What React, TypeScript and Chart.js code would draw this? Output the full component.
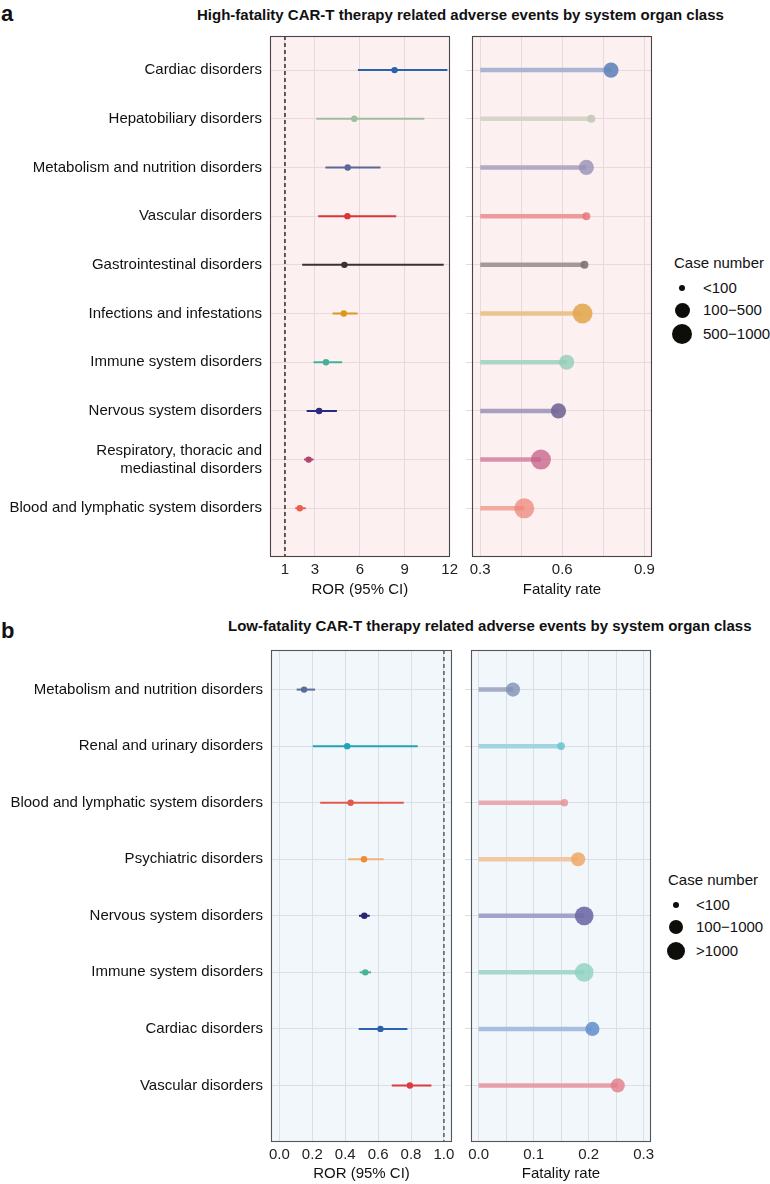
import React, { useEffect, useRef } from 'react';
import { Chart, registerables } from 'chart.js';

Chart.register(...registerables);

const FONT = "'Liberation Sans', Arial, Helvetica, sans-serif";

// ---------------- Panel a : high-fatality ----------------
const topCategories = [
  'Cardiac disorders',
  'Hepatobiliary disorders',
  'Metabolism and nutrition disorders',
  'Vascular disorders',
  'Gastrointestinal disorders',
  'Infections and infestations',
  'Immune system disorders',
  'Nervous system disorders',
  'Respiratory, thoracic and\nmediastinal disorders',
  'Blood and lymphatic system disorders',
];
const topRor = [8.32, 5.63, 5.19, 5.17, 4.97, 4.93, 3.74, 3.28, 2.58, 1.99];
const topRorLow = [5.87, 3.09, 3.7, 3.22, 2.15, 4.18, 2.91, 2.45, 2.28, 1.69];
const topRorHigh = [11.85, 10.31, 7.38, 8.43, 11.6, 5.85, 4.82, 4.47, 2.91, 2.39];
const topFatality = [0.778, 0.706, 0.688, 0.688, 0.681, 0.674, 0.616, 0.586, 0.522, 0.461];
const topCaseGroup = ['100−500', '<100', '100−500', '<100', '<100', '500−1000', '100−500', '100−500', '500−1000', '500−1000'];
const topCaseLevels = ['<100', '100−500', '500−1000'];
const topRorTicks = [1, 3, 6, 9, 12];
const topRorTickLabels = ['1', '3', '6', '9', '12'];
const topFatalityTicks = [0.3, 0.45, 0.6, 0.75, 0.9];
const topFatalityTickLabels = ['0.3', '', '0.6', '', '0.9'];
const topStemStart = 0.3;
const topRefLine = 1;

// ---------------- Panel b : low-fatality ----------------
const botCategories = [
  'Metabolism and nutrition disorders',
  'Renal and urinary disorders',
  'Blood and lymphatic system disorders',
  'Psychiatric disorders',
  'Nervous system disorders',
  'Immune system disorders',
  'Cardiac disorders',
  'Vascular disorders',
];
const botRor = [0.15, 0.412, 0.433, 0.514, 0.516, 0.522, 0.614, 0.793];
const botRorLow = [0.105, 0.203, 0.248, 0.418, 0.484, 0.488, 0.482, 0.683];
const botRorHigh = [0.217, 0.841, 0.756, 0.634, 0.549, 0.557, 0.778, 0.924];
const botFatality = [0.0625, 0.15, 0.156, 0.181, 0.192, 0.192, 0.207, 0.253];
const botCaseGroup = ['100−1000', '<100', '<100', '100−1000', '>1000', '>1000', '100−1000', '100−1000'];
const botCaseLevels = ['<100', '100−1000', '>1000'];
const botRorTicks = [0, 0.2, 0.4, 0.6, 0.8, 1.0];
const botRorTickLabels = ['0.0', '0.2', '0.4', '0.6', '0.8', '1.0'];
const botFatalityTicks = [0, 0.05, 0.1, 0.15, 0.2, 0.25, 0.3];
const botFatalityTickLabels = ['0.0', '', '0.1', '', '0.2', '', '0.3'];
const botStemStart = 0;
const botRefLine = 1;

// ---------------- styles ----------------
const topForestColors = ['#2b62ad', '#9fbf9f', '#5b6898', '#d93636', '#3b3131', '#d99a1c', '#45b09b', '#2b2a80', '#b04570', '#e8604c'];
const topPointColors = [
  'rgba(100,132,186,0.9)', 'rgba(196,201,182,0.9)', 'rgba(150,144,180,0.8)', 'rgba(230,120,126,0.85)',
  'rgba(128,115,115,0.9)', 'rgba(226,168,82,0.9)', 'rgba(145,206,184,0.8)', 'rgba(115,102,152,0.9)',
  'rgba(196,95,135,0.75)', 'rgba(236,135,122,0.75)',
];
const topStemColors = ['#a9b6d3', '#d6d5c8', '#b1abc4', '#ee9a9d', '#a59a9a', '#eac48e', '#abd6c7', '#a89fc0', '#d890ad', '#f0aaa0'];
const topRadius = [4, 7.6, 10];

const botForestColors = ['#5a6b9e', '#22a3b6', '#e05a4e', '#f08c34', '#2b2272', '#47b39b', '#2b62ad', '#dc3a3c'];
const botCiColors = ['#5a6b9e', '#22a3b6', '#e05a4e', '#f5b276', '#2b2272', '#47b39b', '#2b62ad', '#dc3a3c'];
const botPointColors = [
  'rgba(128,144,182,0.8)', 'rgba(110,196,212,0.9)', 'rgba(230,150,154,0.85)', 'rgba(238,172,110,0.9)',
  'rgba(110,106,166,0.9)', 'rgba(140,210,192,0.8)', 'rgba(104,148,206,0.9)', 'rgba(226,124,136,0.8)',
];
const botStemColors = ['#a4acc6', '#9fd4e0', '#e8acaf', '#f1c8a2', '#a4a2c8', '#a6d9cc', '#a7bee0', '#e8a0a8'];
const botRadius = [3.8, 7.1, 9.4];

const PINK = '#fdf0f0';
const PINK_GRID = '#e8dadc';
const BLUE = '#f2f7fc';
const BLUE_GRID = '#dadfe6';

type Spec = {
  kind: 'forest' | 'lollipop';
  categories: string[];
  values: number[];
  low?: number[];
  high?: number[];
  stemStart?: number;
  radii?: number[];
  pointColors: string[];
  lineColors: string[];
  xMin: number;
  xMax: number;
  xTicks: number[];
  xTickLabels: string[];
  xTitle: string;
  refLine?: number;
  refColor?: string;
  bg: string;
  gridColor: string;
  borderColor: string;
  left: number;
  top: number;
  width: number;
  height: number;
  padTop: number;
  padRight: number;
  yAxisWidth: number;
  xAxisHeight: number;
  showYLabels: boolean;
};

const panelPlugin = {
  id: 'panelBox',
  beforeDraw(chart: any, _args: any, opts: any) {
    const { ctx, chartArea: a } = chart;
    ctx.save();
    ctx.fillStyle = opts.bg;
    ctx.fillRect(a.left, a.top, a.right - a.left, a.bottom - a.top);
    ctx.restore();
  },
  afterDraw(chart: any, _args: any, opts: any) {
    const { ctx, chartArea: a } = chart;
    ctx.save();
    ctx.strokeStyle = opts.border;
    ctx.lineWidth = 1.1;
    ctx.strokeRect(Math.round(a.left) + 0.5, Math.round(a.top) + 0.5, Math.round(a.right - a.left) - 1, Math.round(a.bottom - a.top) - 1);
    ctx.restore();
  },
};

function buildConfig(p: Spec): any {
  const n = p.categories.length;
  const yMin = -0.7;
  const yMax = n;
  const datasets: any[] = [];
  if (p.kind === 'forest') {
    p.values.forEach((_, i) => {
      datasets.push({
        type: 'scatter',
        data: [{ x: p.low![i], y: i }, { x: p.high![i], y: i }],
        showLine: true,
        borderColor: p.lineColors[i],
        borderWidth: 2,
        borderCapStyle: 'butt',
        pointRadius: 0,
        order: 2,
      });
    });
    if (p.refLine !== undefined) {
      datasets.push({
        type: 'scatter',
        data: [{ x: p.refLine, y: yMin }, { x: p.refLine, y: yMax }],
        showLine: true,
        borderColor: p.refColor,
        borderWidth: 1.3,
        borderDash: [4, 3],
        pointRadius: 0,
        order: 1,
      });
    }
    datasets.push({
      type: 'scatter',
      data: p.values.map((v, i) => ({ x: v, y: i })),
      pointRadius: 3.2,
      pointBackgroundColor: p.pointColors,
      pointBorderWidth: 0,
      pointBorderColor: 'rgba(0,0,0,0)',
      order: 0,
    });
  } else {
    p.values.forEach((v, i) => {
      datasets.push({
        type: 'scatter',
        data: [{ x: p.stemStart, y: i }, { x: v, y: i }],
        showLine: true,
        borderColor: p.lineColors[i],
        borderWidth: 4.5,
        borderCapStyle: 'butt',
        pointRadius: 0,
        order: 2,
      });
    });
    datasets.push({
      type: 'scatter',
      data: p.values.map((v, i) => ({ x: v, y: i })),
      pointRadius: p.radii,
      pointBackgroundColor: p.pointColors,
      pointBorderWidth: 0,
      pointBorderColor: 'rgba(0,0,0,0)',
      order: 0,
    });
  }

  return {
    type: 'scatter',
    data: { datasets },
    plugins: [panelPlugin],
    options: {
      responsive: false,
      animation: false,
      events: [],
      layout: { padding: { top: p.padTop, right: p.padRight, bottom: 0, left: 0 } },
      plugins: {
        legend: { display: false },
        tooltip: { enabled: false },
        panelBox: { bg: p.bg, border: p.borderColor },
      },
      scales: {
        x: {
          type: 'linear',
          min: p.xMin,
          max: p.xMax,
          offset: false,
          beginAtZero: false,
          afterBuildTicks: (s: any) => {
            s.ticks = p.xTicks.map((v) => ({ value: v }));
          },
          afterFit: (s: any) => {
            s.height = p.xAxisHeight;
          },
          ticks: {
            autoSkip: false,
            maxRotation: 0,
            padding: 4,
            color: '#222',
            font: { family: FONT, size: 15 },
            callback: (_v: any, idx: number) => p.xTickLabels[idx] ?? '',
          },
          grid: { color: p.gridColor, lineWidth: 1, drawTicks: false, offset: false },
          border: { display: false },
          title: {
            display: true,
            text: p.xTitle,
            color: '#111',
            font: { family: FONT, size: 15 },
            padding: { top: 0, bottom: 1 },
          },
        },
        y: {
          type: 'linear',
          reverse: true,
          min: yMin,
          max: yMax,
          offset: false,
          beginAtZero: false,
          afterBuildTicks: (s: any) => {
            s.ticks = p.categories.map((_, i) => ({ value: i }));
          },
          afterFit: (s: any) => {
            s.width = p.yAxisWidth;
          },
          ticks: {
            display: p.showYLabels,
            autoSkip: false,
            padding: 8,
            color: '#111',
            font: { family: FONT, size: 15 },
            callback: (v: any) => {
              const lab = p.categories[v];
              return lab ? lab.split('\n') : '';
            },
          },
          grid: {
            color: p.gridColor,
            lineWidth: 1,
            drawTicks: !p.showYLabels,
            tickLength: 6,
            offset: false,
          },
          border: { display: false },
        },
      },
    },
  };
}

function ChartPanel({ spec }: { spec: Spec }) {
  const ref = useRef<HTMLCanvasElement | null>(null);
  useEffect(() => {
    if (!ref.current) return;
    const chart = new Chart(ref.current, buildConfig(spec));
    return () => chart.destroy();
  }, [spec]);
  return (
    <canvas
      ref={ref}
      width={spec.width}
      height={spec.height}
      style={{ position: 'absolute', left: spec.left, top: spec.top, width: spec.width, height: spec.height }}
    />
  );
}

const topForest: Spec = {
  kind: 'forest',
  categories: topCategories,
  values: topRor,
  low: topRorLow,
  high: topRorHigh,
  pointColors: topForestColors,
  lineColors: topForestColors,
  xMin: 0,
  xMax: 12,
  xTicks: topRorTicks,
  xTickLabels: topRorTickLabels,
  xTitle: 'ROR (95% CI)',
  refLine: topRefLine,
  refColor: '#111',
  bg: PINK,
  gridColor: PINK_GRID,
  borderColor: '#4a4444',
  left: 0,
  top: 0,
  width: 462,
  height: 600,
  padTop: 36,
  padRight: 10,
  yAxisWidth: 270,
  xAxisHeight: 43,
  showYLabels: true,
};

const topLolli: Spec = {
  kind: 'lollipop',
  categories: topCategories,
  values: topFatality,
  stemStart: topStemStart,
  radii: topCaseGroup.map((g) => topRadius[topCaseLevels.indexOf(g)]),
  pointColors: topPointColors,
  lineColors: topStemColors,
  xMin: 0.27,
  xMax: 0.928,
  xTicks: topFatalityTicks,
  xTickLabels: topFatalityTickLabels,
  xTitle: 'Fatality rate',
  bg: PINK,
  gridColor: PINK_GRID,
  borderColor: '#4a4444',
  left: 462,
  top: 0,
  width: 200,
  height: 600,
  padTop: 36,
  padRight: 7,
  yAxisWidth: 10,
  xAxisHeight: 43,
  showYLabels: false,
};

const botForest: Spec = {
  kind: 'forest',
  categories: botCategories,
  values: botRor,
  low: botRorLow,
  high: botRorHigh,
  pointColors: botForestColors,
  lineColors: botCiColors,
  xMin: -0.051,
  xMax: 1.049,
  xTicks: botRorTicks,
  xTickLabels: botRorTickLabels,
  xTitle: 'ROR (95% CI)',
  refLine: botRefLine,
  refColor: '#444',
  bg: BLUE,
  gridColor: BLUE_GRID,
  borderColor: '#555',
  left: 0,
  top: 600,
  width: 462,
  height: 584,
  padTop: 50,
  padRight: 10,
  yAxisWidth: 271,
  xAxisHeight: 42,
  showYLabels: true,
};

const botLolli: Spec = {
  kind: 'lollipop',
  categories: botCategories,
  values: botFatality,
  stemStart: botStemStart,
  radii: botCaseGroup.map((g) => botRadius[botCaseLevels.indexOf(g)]),
  pointColors: botPointColors,
  lineColors: botStemColors,
  xMin: -0.0138,
  xMax: 0.3135,
  xTicks: botFatalityTicks,
  xTickLabels: botFatalityTickLabels,
  xTitle: 'Fatality rate',
  bg: BLUE,
  gridColor: BLUE_GRID,
  borderColor: '#555',
  left: 461,
  top: 600,
  width: 200,
  height: 584,
  padTop: 50,
  padRight: 10,
  yAxisWidth: 10,
  xAxisHeight: 42,
  showYLabels: false,
};

function Txt({ x, y, size, bold, children }: { x: number; y: number; size: number; bold?: boolean; children: React.ReactNode }) {
  return (
    <div
      style={{
        position: 'absolute',
        left: x,
        top: y - size * 0.6,
        height: size * 1.2,
        lineHeight: `${size * 1.2}px`,
        fontSize: size,
        fontWeight: bold ? 700 : 400,
        fontFamily: FONT,
        color: '#111',
        whiteSpace: 'nowrap',
      }}
    >
      {children}
    </div>
  );
}

function Dot({ cx, cy, r }: { cx: number; cy: number; r: number }) {
  return (
    <div
      style={{
        position: 'absolute',
        left: cx - r,
        top: cy - r,
        width: r * 2,
        height: r * 2,
        borderRadius: '50%',
        background: '#0d0d0a',
      }}
    />
  );
}

function Legend({ x, y, levels, radii, dotX, textX }: { x: number; y: number; levels: string[]; radii: number[]; dotX: number; textX: number }) {
  const rows = [y + 25, y + 47, y + 71];
  return (
    <>
      <Txt x={x} y={y} size={15}>Case number</Txt>
      {levels.map((lab, i) => (
        <React.Fragment key={lab}>
          <Dot cx={dotX} cy={rows[i]} r={radii[i]} />
          <Txt x={textX} y={rows[i]} size={15}>{lab}</Txt>
        </React.Fragment>
      ))}
    </>
  );
}

export default function App() {
  return (
    <div style={{ position: 'absolute', left: 0, top: 0, width: 770, height: 1184, background: '#fff', overflow: 'hidden' }}>
      <Txt x={1} y={14} size={22} bold>a</Txt>
      <Txt x={197} y={15} size={15} bold>High-fatality CAR-T therapy related adverse events by system organ class</Txt>
      <ChartPanel spec={topForest} />
      <ChartPanel spec={topLolli} />
      <Legend x={674} y={263} levels={topCaseLevels} radii={[3.3, 7.5, 10]} dotX={682} textX={703} />

      <Txt x={1} y={631} size={22} bold>b</Txt>
      <Txt x={228} y={626} size={15} bold>Low-fatality CAR-T therapy related adverse events by system organ class</Txt>
      <ChartPanel spec={botForest} />
      <ChartPanel spec={botLolli} />
      <Legend x={668} y={880} levels={botCaseLevels} radii={[3, 7, 9]} dotX={676} textX={696} />
    </div>
  );
}
